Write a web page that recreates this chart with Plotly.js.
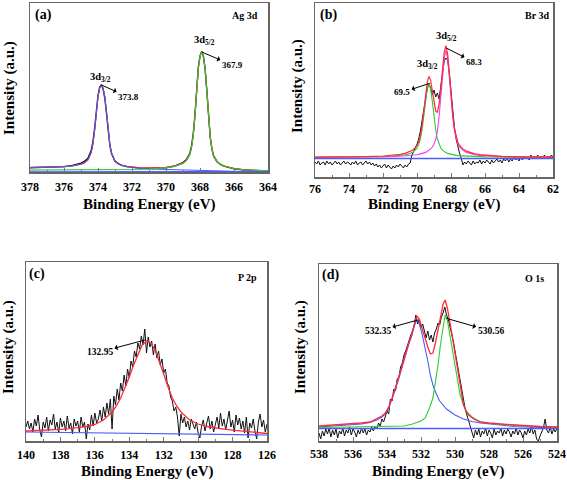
<!DOCTYPE html>
<html><head><meta charset="utf-8">
<script src="https://cdn.plot.ly/plotly-3.0.1.min.js"></script>
<style>html,body{margin:0;padding:0;background:#fff}#chart{width:567px;height:480px}</style>
</head><body><div id="chart"></div>
<script>
// ---------- Panel (a) Ag 3d ----------
const agE = [378,377.5,377,376.5,376,375.5,375.2,375.0,374.8,374.6,374.4,374.3,374.2,374.1,374.0,373.9,373.8,373.7,373.6,373.5,373.4,373.3,373.2,373.0,372.8,372.6,372.3,372.0,371.5,371.0,370.5,370.0,369.5,369.2,369.0,368.8,368.6,368.5,368.4,368.3,368.2,368.1,368.0,367.9,367.8,367.7,367.6,367.5,367.4,367.3,367.2,367.0,366.8,366.6,366.3,366.0,365.5,365.0,364.5,364.0];
const agRaw = [4.3,4.5,4.6,4.9,5.4,6.5,7.8,8.9,10.6,13.5,21.5,30,43.5,62,76.5,85,87.2,83,74,58.5,39.5,26.3,18.2,10.8,8.2,6.6,5.4,4.6,3.9,3.6,3.7,4.3,5.9,7.6,9.4,12.4,18.5,25.8,37.5,56.5,83.5,104.5,116,120.6,115.8,103.2,81.5,54,35,23.2,16.1,10.3,7.5,5.8,4.2,3.3,2.2,1.5,1.0,0.7];
const agFit = [4.6,4.8,4.8,5.0,5.4,6.3,7.2,7.9,9.3,11.9,19.4,27.8,41.2,60.4,75.5,84.0,87.4,83.9,75.5,60.2,41.0,27.5,19.1,11.4,8.6,7.05,5.8,5.0,4.3,4.1,4.25,4.8,6.1,7.6,9.1,11.8,17.4,24.5,36.3,55.3,82.6,103.9,115.7,120.45,115.5,103.6,82.1,54.7,35.4,23.5,16.4,10.6,7.8,6.15,4.5,3.5,2.4,1.9,1.55,1.3];
const ag32 = [4.5,4.6,4.7,4.8,5.2,6.0,6.9,7.6,9.0,11.6,19.1,27.5,40.9,60.1,75.2,83.6,87.0,83.5,75.1,59.8,40.6,27.1,18.6,10.9,8.1,6.5,5.2,4.3,3.4,3.0,2.7,2.5,2.3,2.2,2.1,2.0,1.9,1.85,1.8,1.75,1.7,1.6,1.5,1.45,1.35,1.25,1.15,1.05,1.0,0.95,0.9,0.85,0.8,0.75,0.7,0.7,0.65,0.6,0.55,0.5];
const ag52 = [2,2,2,2,2,2,2,2,2,2,2,2,2,2,2,2,2,2,2,2,2,2,2,2.3,2.3,2.35,2.4,2.5,2.7,3.0,3.4,4.1,5.5,7.1,8.6,11.4,17.1,24.2,36.0,55.05,82.3,103.6,115.45,120.2,115.3,103.3,81.8,54.4,35.2,23.3,16.15,10.4,7.55,5.9,4.3,3.3,2.25,1.75,1.4,1.15];
const agBaseE = [378,364];
const agBase = [0.7,0.4];
const ticksA = [378,376,374,372,370,368,366,364];

// ---------- Panel (b) Br 3d ----------
const brRaw = [15,13,16,12,14,15,12,16,13,15, 12,14,16,13,15,12,14,16,13,15, 14,12,15,13,16,12,14,15,12,14, 16,13,15,12,14,11,13,10,12,9, 11,13,9,12,10,8,11,9,12,10, 13,11,9,12,10,13,14,22,25,29, 33,38,46,56,68,80,88,93,89,82, 87,80,84,78,92,106,116,119,117,104, 86,66,50,38,30,24,19,12,15,13, 16,14,12,16,13,15,14,17,13,16, 14,17,15,13,17,14,16,18,15,17, 14,18,16,19,15,18,16,20,17,19, 16,20,17,21,18,20,17,22,18,21, 19,22,18,21,19,22,18,21,19,22, 20];
const brFitE = [76,75,74,73,72,71.5,71,70.7,70.5,70.3,70.1,70.0,69.9,69.8,69.7,69.6,69.5,69.4,69.3,69.2,69.1,69.0,68.9,68.8,68.7,68.6,68.5,68.4,68.3,68.2,68.1,68.0,67.9,67.8,67.7,67.6,67.5,67.3,67.1,66.9,66.6,66.3,66.0,65.5,65.0,64,63,62];
const brFit = [19.9,19.9,20.1,20.4,21.0,21.7,22.6,23.7,24.9,26.5,29.4,31.6,35.2,41.5,51.6,65.4,80.8,94.3,100.6,96.9,86.2,74.3,65.8,64.75,72.8,88.7,108.1,124.9,131.4,123.1,104.4,82.5,62.9,48.65,39.8,34.8,31.8,28.1,25.9,24.6,23.1,22.3,21.8,21.1,20.7,20.2,20.0,19.9];
const br32 = [19.7,19.7,19.8,20.0,20.3,20.8,21.4,22.2,23.1,24.4,26.8,28.8,32.1,38.0,47.6,60.9,75.7,88.3,93.5,88.3,75.7,60.9,47.6,38.0,32.1,28.8,26.8,25.4,24.4,23.6,23.1,22.6,22.2,21.9,21.6,21.4,21.3,21.0,20.8,20.6,20.3,20.2,20.1,20.0,19.9,19.7,19.7,19.6];
const br52 = [19.7,19.7,19.8,19.9,20.2,20.4,20.7,21.0,21.3,21.6,22.1,22.3,22.6,23.0,23.5,24.0,24.6,25.5,26.6,28.1,30.0,32.9,37.7,46.25,60.2,79.4,100.8,119.0,126.5,119.0,100.8,79.4,60.2,46.25,37.7,32.9,30.0,26.6,24.6,23.5,22.3,21.6,21.2,20.6,20.35,20.0,19.85,19.75];
const brBaseE = [76,62];
const brBase = [18.5,18.5];
const ticksB = [76,74,72,70,68,66,64,62];

// ---------- Panel (c) P 2p ----------
const pRaw = [14,20,12,18,9,22,15,26,11,4, 19,13,24,10,21,16,27,12,19,8, 23,14,20,10,25,13,18,7,22,15, 20,9,24,14,19,2,17,11,26,15, 28,18,22,31,20,34,24,38,27,42, 12,45,36,52,41,58,50,66,55,72, 63,80,74,90,84,98,92,105,96,112, 88,104,94,100,86,97,83,90,76,82, 68,72,58,55,44,40,30,34,24,5, 27,18,24,14,20,11,22,16,12,19, 8,3,15,21,10,18,25,12,20,9, 17,24,13,28,15,22,11,19,30,14, 21,9,26,16,23,12,20,8,24,3, 18,13,22,10,2,19,27,14,21,9, 17];
const pFitE = [140,139.5,139,138.5,138,137.5,137,136.5,136,135.5,135,134.75,134.5,134.25,134,133.75,133.5,133.25,133,132.75,132.5,132.25,132,131.75,131.5,131.25,131,130.5,130,129.5,129,128.5,128,127.5,127,126.5,126];
const pFit = [10.0,10.3,10.7,11.1,11.6,12.3,13.1,14.3,16.5,21,29,35,43,53,64,76,87,96,100,98,91,80,67,54,43,35,29,21,17,14.5,13,11.8,10.8,9.8,8.8,8.0,7.5];
const pBaseE = [140,126];
const pBase = [9,6];
const ticksC = [140,138,136,134,132,130,128,126];

// ---------- Panel (d) O 1s ----------
const oRaw = [8,2,10,5,12,7,13,4,11,6, 12,3,10,7,13,5,11,8,14,6, 12,9,4,11,7,13,8,12,6,11, 9,14,10,15,12,18,15,22,19,24, 30,27,42,40,52,50,62,64,74,78, 86,90,96,100,106,110,116,126,117,122, 113,117,108,103,110,101,106,99,108,112, 118,116,124,128,134,126,122,115,108,100, 90,80,68,58,48,40,32,26,20,14, 9,3,11,6,12,4,10,7,13,5, 11,8,3,12,6,10,8,13,5,11, 7,12,9,4,10,7,13,6,11,8, 3,10,6,12,8,14,7,11,2,0, 5,9,13,22,11,8,14,7,12,9, 13];
const oFitE = [538,537,536,535.5,535,534.6,534.3,534.1,533.9,533.7,533.5,533.3,533.1,532.9,532.7,532.55,532.4,532.25,532.1,531.95,531.8,531.6,531.45,531.3,531.15,531.0,530.85,530.7,530.58,530.45,530.3,530.15,530.0,529.85,529.7,529.5,529.35,529.2,528.9,528.5,528,527,526,525,524];
const oFit = [15,16,17,18,19,22,25,28,34,43,53,64,76,88,99,106,117,125,122,113,104,94,87,88,98,112,126,137,141,133,119,103,86,69,53,36,30,26,22,19,18,16.5,15.5,14.5,14];
const oHighE = [538,537,536,535.5,535,534.6,534.3,534.1,533.9,533.7,533.5,533.3,533.1,532.9,532.7,532.55,532.4,532.25,532.1,531.95,531.8,531.6,531.45,531.3,531.1,530.9,530.5,530,529.5,529,528.5,527.5,526.5,525,524];
const oHigh = [14,15,16,17,18.5,21,24,27,33,42,52,63,75,87,98,105,115,121,117,108,97,80,66,56,47,40,32,26,22,19.5,18,16,14.5,13.5,13];
const oLowE = [538,536,534,533,532.5,532.0,531.75,531.5,531.3,531.15,531.0,530.85,530.7,530.58,530.45,530.3,530.15,530.0,529.85,529.7,529.5,529.3,529.0,528.5,528,527,526,525,524];
const oLow = [13.5,14,14.5,15,17,20,23,33,43,58,76,97,116,126,121,106,92,76,60,46,36,29,24,19,17.5,16,15,14.5,14];
const oBaseE = [538,524];
const oBase = [12.5,12.5];
const ticksD = [538,536,534,532,530,528,526,524];

// energy sampling of the raw scans (0.1 eV steps between the scan limits)
function scan(start, stop){ const out=[]; const n=Math.round((start-stop)*10); for(let i=0;i<=n;i++) out.push(+(start - i*0.1).toFixed(2)); return out; }
const brE = scan(76,62), pE = scan(140,126), oE = scan(538,524);

const BLACK='#111', RED='#ff2a3c', BLUE='#4a5cff', GREEN='#2ecc2e', MAG='#f040f0';
function ln(x,y,c,w,xa,ya){ return {x, y, type:'scatter', mode:'lines', line:{color:c, width:w}, xaxis:xa, yaxis:ya, hoverinfo:'skip'}; }

const traces = [
  ln(agE, agRaw, BLACK, 1.4, 'x', 'y'),
  ln(agE, agFit, RED, 1.1, 'x', 'y'),
  ln(agE, ag32, BLUE, 1.0, 'x', 'y'),
  ln(agE, ag52, GREEN, 1.1, 'x', 'y'),
  ln(agBaseE, agBase, BLUE, 1.0, 'x', 'y'),

  ln(brE, brRaw, BLACK, 1.0, 'x2', 'y2'),
  ln(brBaseE, brBase, BLUE, 1.5, 'x2', 'y2'),
  ln(brFitE, br32, GREEN, 1.1, 'x2', 'y2'),
  ln(brFitE, br52, MAG, 1.1, 'x2', 'y2'),
  ln(brFitE, brFit, RED, 1.2, 'x2', 'y2'),

  ln(pE, pRaw, BLACK, 1.0, 'x3', 'y3'),
  ln(pBaseE, pBase, BLUE, 1.2, 'x3', 'y3'),
  ln(pFitE, pFit, RED, 1.3, 'x3', 'y3'),

  ln(oE, oRaw, BLACK, 1.0, 'x4', 'y4'),
  ln(oBaseE, oBase, BLUE, 1.5, 'x4', 'y4'),
  ln(oHighE, oHigh, BLUE, 1.1, 'x4', 'y4'),
  ln(oLowE, oLow, GREEN, 1.1, 'x4', 'y4'),
  ln(oFitE, oFit, RED, 1.3, 'x4', 'y4')
];

const FONT = '"Liberation Serif", "Times New Roman", serif';
const W = 567, H = 480;
function xax(l, r, range, anchor, tv, standoff){
  return {domain:[l/W, r/W], range, anchor, tickmode:'array', tickvals:tv, ticktext:tv.map(String),
    showline:true, mirror:true, linecolor:'#666', linewidth:1.5, ticks:'inside', ticklen:4, tickwidth:1, tickcolor:'#777',
    minor:{ticks:'inside', ticklen:2, tickcolor:'#777', tickmode:'linear', tick0:1, dtick:2},
    tickfont:{family:FONT, size:12, color:'#000', weight:'bold'}, ticklabelstandoff:standoff,
    showgrid:false, zeroline:false, fixedrange:true};
}
function yax(top, bot, range, anchor){
  return {domain:[1-bot/H, 1-top/H], range, anchor, showline:true, mirror:true, linecolor:'#666', linewidth:1.5,
    ticks:'', showticklabels:false, showgrid:false, zeroline:false, fixedrange:true};
}
function pt(text, px, py, size, extra){
  return Object.assign({text, x:px/W, y:1-py/H, xref:'paper', yref:'paper', showarrow:false, xanchor:'center', yanchor:'middle',
    font:{family:FONT, size, color:'#000', weight:'bold'}}, extra||{});
}
function dt(text, x, y, xr, yr, size){
  return {text, x, y, xref:xr, yref:yr, showarrow:false, xanchor:'center', yanchor:'middle', font:{family:FONT, size, color:'#000', weight:'bold'}};
}
// label with an arrow running from the peak (px,py) to the label, head at the label side
function lab(text, tx, ty, px, py, xr, yr, size){
  return {text, x:px, y:py, ax:tx, ay:ty, xref:xr, yref:yr, axref:xr, ayref:yr, showarrow:true, arrowside:'start',
    arrowhead:2, arrowsize:1, arrowwidth:1, arrowcolor:'#000', standoff:0, startstandoff:0,
    font:{family:FONT, size, color:'#000', weight:'bold'}};
}

const annotations = [
  pt('Binding Energy (eV)', 149, 205, 15), pt('Binding Energy (eV)', 434, 204, 15),
  pt('Binding Energy (eV)', 147, 471, 15), pt('Binding Energy (eV)', 438, 471, 15),
  pt('Intensity (a.u.)', 9, 88, 15, {textangle:-90}), pt('Intensity (a.u.)', 297, 86, 15, {textangle:-90}),
  pt('Intensity (a.u.)', 8, 347, 15, {textangle:-90}), pt('Intensity (a.u.)', 300, 347, 15, {textangle:-90}),
  pt('(a)', 43, 15, 14), pt('(b)', 328, 15, 14), pt('(c)', 37, 274, 14), pt('(d)', 330, 275, 14),
  pt('Ag 3d', 245, 15, 10), pt('Br 3d', 537, 15, 10), pt('P 2p', 247, 277, 10), pt('O 1s', 534, 278, 10),

  dt('3d<sub>3/2</sub>', 373.84, 94, 'x', 'y', 10.5),
  lab('373.8', 372.2, 75, 373.8, 87, 'x', 'y', 9),
  dt('3d<sub>5/2</sub>', 367.76, 131, 'x', 'y', 10.5),
  lab('367.9', 366.1, 107, 367.9, 120, 'x', 'y', 9),

  dt('3d<sub>3/2</sub>', 69.38, 112, 'x2', 'y2', 10.5),
  lab('69.5', 70.88, 84.5, 69.25, 93.7, 'x2', 'y2', 9),
  dt('3d<sub>5/2</sub>', 68.24, 140.5, 'x2', 'y2', 10.5),
  lab('68.3', 66.65, 115, 68.28, 129, 'x2', 'y2', 9),

  lab('132.95', 135.7, 89, 133.09, 101, 'x3', 'y3', 9.5),

  lab('532.35', 534.53, 110, 532.18, 121, 'x4', 'y4', 9.5),
  lab('530.56', 527.91, 110, 530.51, 122.7, 'x4', 'y4', 9.5)
];

const layout = {
  width:W, height:H, margin:{l:0, r:0, t:0, b:0}, paper_bgcolor:'#fff', plot_bgcolor:'#fff', showlegend:false,
  font:{family:FONT, color:'#000'},
  xaxis: xax(30, 268, [378,364], 'y', ticksA, 3),   yaxis: yax(3, 172, [0,169], 'x'),
  xaxis2: xax(315, 553, [76,62], 'y2', ticksB, 0),  yaxis2: yax(3, 177, [0,174], 'x2'),
  xaxis3: xax(26, 267, [140,126], 'y3', ticksC, 2), yaxis3: yax(262, 441, [0,179], 'x3'),
  xaxis4: xax(319, 557, [538,524], 'y4', ticksD, 1), yaxis4: yax(264, 441, [0,177], 'x4'),
  annotations
};
Plotly.newPlot('chart', traces, layout, {staticPlot:true, displayModeBar:false});
</script></body></html>
